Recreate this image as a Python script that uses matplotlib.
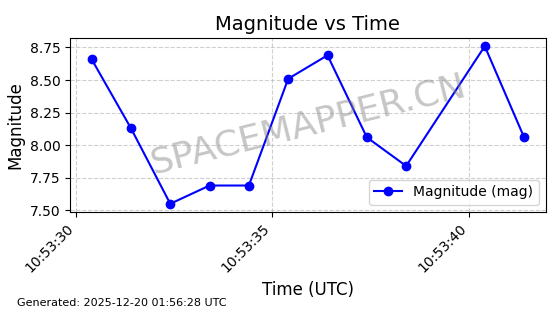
import datetime as dt
import matplotlib
matplotlib.use("Agg")
import matplotlib.pyplot as plt
import matplotlib.dates as mdates

# seconds after 10:53:00 UTC
seconds = [30.4, 31.4, 32.4, 33.4, 34.4, 35.4, 36.4, 37.4, 38.4, 40.4, 41.4]
magnitude = [8.66, 8.13, 7.55, 7.69, 7.69, 8.51, 8.69, 8.06, 7.84, 8.76, 8.06]

base = dt.datetime(2025, 12, 20, 10, 53, 0)
times = [base + dt.timedelta(seconds=s) for s in seconds]

fig = plt.figure(figsize=(5.6, 3.14), dpi=100)
ax = fig.add_axes([0.125, 0.326, 0.8495, 0.552])

ax.plot(times, magnitude, color='blue', marker='o', linestyle='-',
        label='Magnitude (mag)')
ax.set_title('Magnitude vs Time', fontsize=14)
ax.set_xlabel('Time (UTC)', fontsize=12)
ax.set_ylabel('Magnitude', fontsize=12)
ax.grid(True, linestyle='--', alpha=0.6)
ax.legend(loc='lower right')

ax.xaxis.set_major_locator(mdates.SecondLocator(bysecond=range(0, 60, 5)))
ax.xaxis.set_major_formatter(mdates.DateFormatter('%H:%M:%S'))
plt.setp(ax.get_xticklabels(), rotation=45, ha='right')

ax.text(0.5, 0.5, 'SPACEMAPPER.CN', transform=ax.transAxes, fontsize=26,
        color='gray', alpha=0.45, rotation=14, ha='center', va='center')

fig.text(0.03, 0.025, 'Generated: 2025-12-20 01:56:28 UTC', fontsize=8)

fig.savefig('out.png', dpi=100)
